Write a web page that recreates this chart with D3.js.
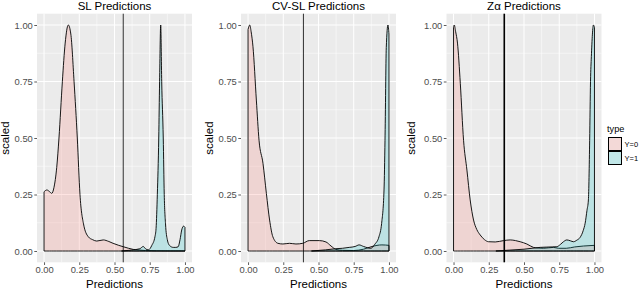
<!DOCTYPE html>
<html><head><meta charset="utf-8">
<script src="https://cdn.jsdelivr.net/npm/d3@7"></script>
<style>body{margin:0;background:#fff;} svg{display:block;} text{font-family:"Liberation Sans",Arial,sans-serif;}</style>
</head><body>
<svg id="c" width="640" height="290"></svg>
<script>
// ---- data ----
const titles = ["SL Predictions", "CV-SL Predictions", "Z\u03B1 Predictions"];
const types = ["Y=0", "Y=1"];
const xTicks = [0, 0.25, 0.5, 0.75, 1];
const yTicks = [0, 0.25, 0.5, 0.75, 1];
const cutoffs = [0.562, 0.393, 0.36];

const slY0 = [[0,0.262],[0.02,0.27],[0.04,0.262],[0.055,0.255],[0.07,0.28],[0.09,0.37],[0.106,0.5],[0.13,0.75],[0.15,0.92],[0.172,1.0],[0.19,0.96],[0.213,0.75],[0.236,0.5],[0.255,0.25],[0.28,0.12],[0.314,0.063],[0.345,0.05],[0.374,0.044],[0.42,0.049],[0.46,0.042],[0.49,0.034],[0.53,0.025],[0.562,0.019],[0.6,0.012],[0.633,0.007],[0.68,0.004],[0.72,0.002],[0.8,0.001],[0.9,0.0005],[1,0.0005]];
const slY1 = [[0.55,0],[0.62,0.004],[0.68,0.01],[0.704,0.02],[0.72,0.01],[0.74,0.005],[0.765,0.025],[0.787,0.063],[0.795,0.1],[0.804,0.25],[0.814,0.5],[0.82,0.75],[0.828,1.0],[0.835,0.75],[0.846,0.5],[0.853,0.25],[0.862,0.12],[0.875,0.05],[0.89,0.025],[0.917,0.016],[0.935,0.016],[0.952,0.019],[0.965,0.05],[0.977,0.093],[0.99,0.11],[1,0.105]];
const cvY0 = [[0,0.98],[0.012,1.0],[0.022,0.97],[0.035,0.904],[0.059,0.668],[0.078,0.49],[0.106,0.388],[0.13,0.255],[0.153,0.137],[0.176,0.063],[0.212,0.034],[0.247,0.031],[0.294,0.034],[0.34,0.031],[0.388,0.034],[0.435,0.046],[0.506,0.046],[0.553,0.04],[0.589,0.022],[0.624,0.007],[0.67,0.003],[0.75,0.002],[0.82,0.008],[0.88,0.02],[0.95,0.027],[1,0.025]];
const cvY1 = [[0.45,0],[0.55,0.005],[0.62,0.01],[0.67,0.012],[0.718,0.016],[0.76,0.02],[0.788,0.027],[0.82,0.02],[0.871,0.012],[0.9,0.03],[0.929,0.063],[0.948,0.122],[0.965,0.27],[0.972,0.49],[0.981,0.9],[0.993,1.0],[1,0.96]];
const zaY0 = [[0,0.99],[0.005,1.0],[0.015,0.97],[0.028,0.92],[0.048,0.742],[0.071,0.49],[0.095,0.358],[0.118,0.226],[0.142,0.137],[0.165,0.095],[0.189,0.071],[0.22,0.05],[0.248,0.041],[0.296,0.04],[0.355,0.046],[0.402,0.049],[0.44,0.046],[0.473,0.041],[0.52,0.031],[0.567,0.016],[0.6,0.013],[0.638,0.012],[0.709,0.016],[0.745,0.012],[0.8,0.012],[0.86,0.018],[0.922,0.022],[1,0.025]];
const zaY1 = [[0.3,0],[0.4,0.004],[0.5,0.008],[0.615,0.016],[0.7,0.018],[0.733,0.019],[0.76,0.03],[0.78,0.041],[0.804,0.049],[0.83,0.045],[0.851,0.041],[0.875,0.048],[0.898,0.06],[0.92,0.09],[0.934,0.123],[0.947,0.18],[0.957,0.226],[0.966,0.49],[0.972,0.75],[0.978,0.86],[0.993,1.0],[1,0.99]];

const seriesByPanel = [[slY0, slY1], [cvY0, cvY1], [zaY0, zaY1]];

// ---- layout ----
const colors = ["#F8766D", "#00BFC4"];
const panels = [{l:37, r:192, yt:9}, {l:241, r:396, yt:213}, {l:446.5, r:601.5, yt:415}];
const pTop = 13.7, pBottom = 262.3;
const svg = d3.select("#c");

panels.forEach((p, i) => {
  const x = d3.scaleLinear().domain([-0.05, 1.05]).range([p.l, p.r]);
  const y = d3.scaleLinear().domain([-0.05, 1.05]).range([pBottom, pTop]);
  const g = svg.append("g");
  g.append("rect").attr("x", p.l).attr("y", pTop).attr("width", p.r - p.l).attr("height", pBottom - pTop).attr("fill", "#EBEBEB");
  const minorX = xTicks.slice(1).map((t, k) => (t + xTicks[k]) / 2);
  const minorY = yTicks.slice(1).map((t, k) => (t + yTicks[k]) / 2);
  g.selectAll(".mx").data(minorX).enter().append("line")
    .attr("x1", d => x(d)).attr("x2", d => x(d)).attr("y1", pTop).attr("y2", pBottom)
    .attr("stroke", "#fff").attr("stroke-width", 0.5);
  g.selectAll(".my").data(minorY).enter().append("line")
    .attr("y1", d => y(d)).attr("y2", d => y(d)).attr("x1", p.l).attr("x2", p.r)
    .attr("stroke", "#fff").attr("stroke-width", 0.5);
  g.selectAll(".gx").data(xTicks).enter().append("line")
    .attr("x1", d => x(d)).attr("x2", d => x(d)).attr("y1", pTop).attr("y2", pBottom)
    .attr("stroke", "#fff").attr("stroke-width", 1);
  g.selectAll(".gy").data(yTicks).enter().append("line")
    .attr("y1", d => y(d)).attr("y2", d => y(d)).attr("x1", p.l).attr("x2", p.r)
    .attr("stroke", "#fff").attr("stroke-width", 1);

  const area = d3.area().x(d => x(d[0])).y0(y(0)).y1(d => y(d[1])).curve(d3.curveMonotoneX);
  seriesByPanel[i].forEach((s, k) => {
    g.append("path").attr("d", area(s))
      .attr("fill", colors[k]).attr("fill-opacity", 0.2)
      .attr("stroke", "#000").attr("stroke-width", 0.9).attr("stroke-linejoin", "round");
  });
  g.append("line").attr("x1", x(cutoffs[i])).attr("x2", x(cutoffs[i])).attr("y1", pTop).attr("y2", pBottom)
    .attr("stroke", "#000").attr("stroke-width", i === 2 ? 1.6 : 0.8);

  // axes
  const xa = d3.axisBottom(x).tickValues(xTicks).tickFormat(d3.format(".2f")).tickSize(2.7).tickPadding(1.5);
  const ya = d3.axisLeft(y).tickValues(yTicks).tickFormat(d3.format(".2f")).tickSize(2.7).tickPadding(1.5);
  const gx = g.append("g").attr("transform", `translate(0,${pBottom})`).call(xa);
  const gy = g.append("g").attr("transform", `translate(${p.l},0)`).call(ya);
  [gx, gy].forEach(a => {
    a.select(".domain").remove();
    a.selectAll(".tick line").attr("stroke", "#333").attr("stroke-width", 0.8);
    a.selectAll(".tick text").attr("fill", "#4D4D4D").style("font-size", "9.4px").style("font-family", "Liberation Sans, Arial, sans-serif");
  });

  g.append("text").attr("x", (p.l + p.r) / 2).attr("y", 9.5).attr("text-anchor", "middle")
    .style("font-size", "11.5px").attr("fill", "#000").text(titles[i]);
  g.append("text").attr("x", (p.l + p.r) / 2).attr("y", 288).attr("text-anchor", "middle")
    .style("font-size", "11.5px").attr("fill", "#000").text("Predictions");
  g.append("text").attr("transform", `translate(${p.yt},${(pTop + pBottom) / 2}) rotate(-90)`).attr("text-anchor", "middle")
    .style("font-size", "11.5px").attr("fill", "#000").text("scaled");
});

// legend
const lg = svg.append("g");
lg.append("text").attr("x", 607).attr("y", 131.5).style("font-size", "9.2px").attr("fill", "#000").text("type");
types.forEach((t, k) => {
  const yy = 137 + k * 14;
  lg.append("rect").attr("x", 608).attr("y", yy).attr("width", 14).attr("height", 14).attr("fill", "#F2F2F2");
  lg.append("rect").attr("x", 608.5).attr("y", yy + 0.5).attr("width", 13).attr("height", 13)
    .attr("fill", colors[k]).attr("fill-opacity", 0.2).attr("stroke", "#000").attr("stroke-width", 1);
  lg.append("text").attr("x", 624.5).attr("y", yy + 9.8).style("font-size", "7.5px").attr("fill", "#000").text(t);
});
</script>
</body></html>
